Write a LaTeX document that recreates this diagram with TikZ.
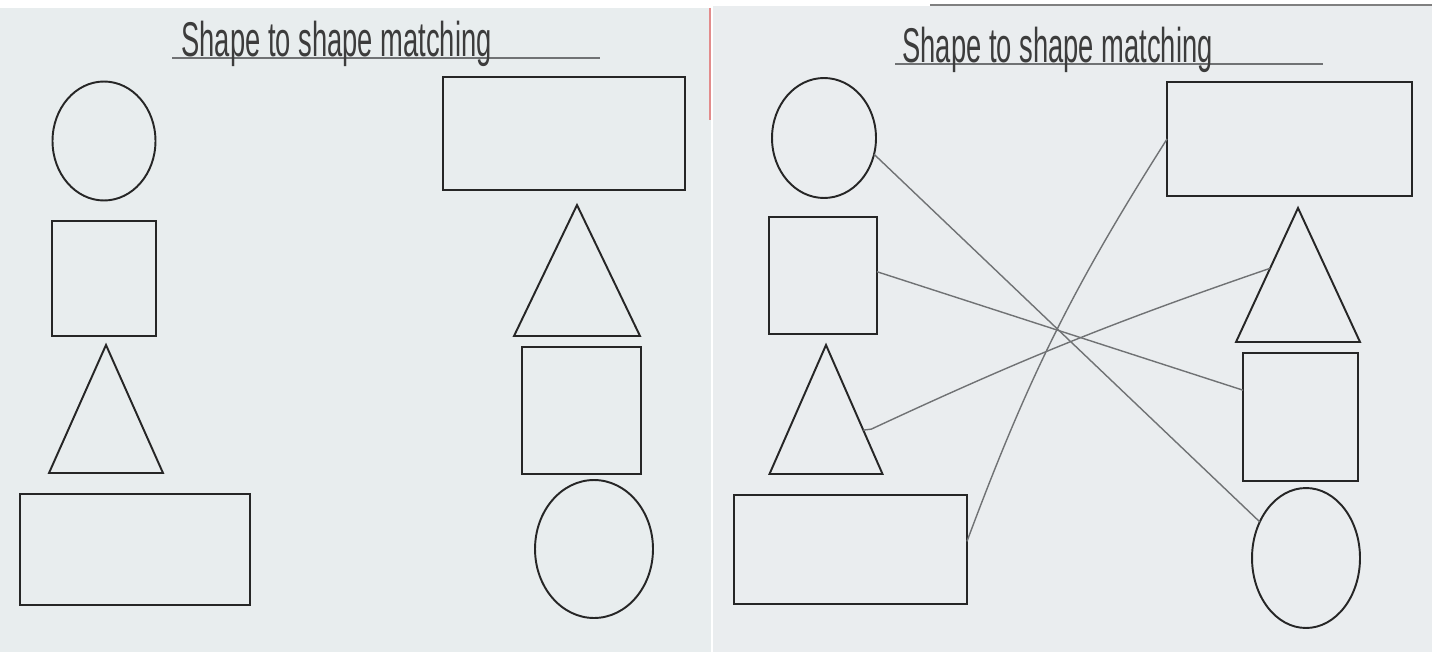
\documentclass[tikz,border=0pt]{standalone}
\usepackage{fontspec}
\newfontfamily\handfont[FakeStretch=0.56]{Liberation Sans}
\usetikzlibrary{shapes.geometric,calc}
\definecolor{paperL}{RGB}{232,237,238}
\definecolor{paperR}{RGB}{234,237,239}
\definecolor{pencil}{RGB}{38,38,38}
\definecolor{matchgray}{RGB}{112,114,116}
\definecolor{marginred}{RGB}{226,140,140}

\begin{document}
\begin{tikzpicture}[
x=0.02cm,y=-0.02cm,
shp/.style={draw=pencil,line width=1.1pt,inner sep=0pt,outer sep=0pt},
circ/.style={shp,ellipse},
box/.style={shp,rectangle},
tri/.style={shp,isosceles triangle,shape border rotate=90,isosceles triangle stretches,anchor=apex},
title/.style={font=\handfont\fontsize{27.8}{30}\selectfont,text=pencil!90,anchor=base west,inner sep=0pt},
match/.style={draw=matchgray,line width=0.8pt}]
\useasboundingbox (0,0) rectangle (1432,652);
% paper
\fill[white] (0,0) rectangle (1432,652);
\fill[paperL] (0,8) rectangle (711,652);
\fill[paperR] (713,6) rectangle (1432,652);
\draw[marginred,line width=1.5pt] (710,8) -- (710,120);
\draw[gray,line width=1pt] (930,5) -- (1432,5);
% left page
\draw[matchgray,line width=0.6pt] (172,58) -- (600,58);
\node[title] (ltitle) at (181,57) {Shape to shape matching};
\node[circ,minimum width=2.06cm,minimum height=2.38cm] (lcircle) at (104,141) {};
\node[box,minimum width=2.08cm,minimum height=2.30cm] (lsquare) at (104,278.5) {};
\node[tri,minimum width=2.28cm,minimum height=2.56cm] (ltriangle) at (106,345) {};
\node[box,minimum width=4.60cm,minimum height=2.22cm] (lrect) at (135,549.5) {};
\node[box,minimum width=4.84cm,minimum height=2.26cm] (lrectB) at (564,133.5) {};
\node[tri,minimum width=2.52cm,minimum height=2.62cm] (ltriangleB) at (577,205) {};
\node[box,minimum width=2.38cm,minimum height=2.54cm] (lsquareB) at (581.5,410.5) {};
\node[circ,minimum width=2.36cm,minimum height=2.76cm] (lcircleB) at (594,549) {};
% right page
\draw[matchgray,line width=0.6pt] (895,64) -- (1323,64);
\node[title] (rtitle) at (902,63) {Shape to shape matching};
\node[circ,minimum width=2.08cm,minimum height=2.40cm] (rcircle) at (824,138) {};
\node[box,minimum width=2.16cm,minimum height=2.34cm] (rsquare) at (823,275.5) {};
\node[tri,minimum width=2.26cm,minimum height=2.58cm] (rtriangle) at (826,345) {};
\node[box,minimum width=4.66cm,minimum height=2.18cm] (rrect) at (850.5,549.5) {};
\node[box,minimum width=4.90cm,minimum height=2.28cm] (rrectB) at (1289.5,139) {};
\node[tri,minimum width=2.48cm,minimum height=2.68cm] (rtriangleB) at (1298,208) {};
\node[box,minimum width=2.30cm,minimum height=2.56cm] (rsquareB) at (1300.5,417) {};
\node[circ,minimum width=2.16cm,minimum height=2.80cm] (rcircleB) at (1306,558) {};
% matching lines
\draw[match] (rcircle.-18) -- (rcircleB.142);
\draw[match] (rsquare.4) -- (rsquareB.155);
\draw[match] ($(rtriangle.apex)!0.66!(rtriangle.right corner)$) -- ++(8,-1)
  to[bend left=3] ($(rtriangleB.apex)!0.45!(rtriangleB.left corner)$);
\draw[match] (rrect.4) to[bend left=6] (rrectB.west);
\end{tikzpicture}
\end{document}
